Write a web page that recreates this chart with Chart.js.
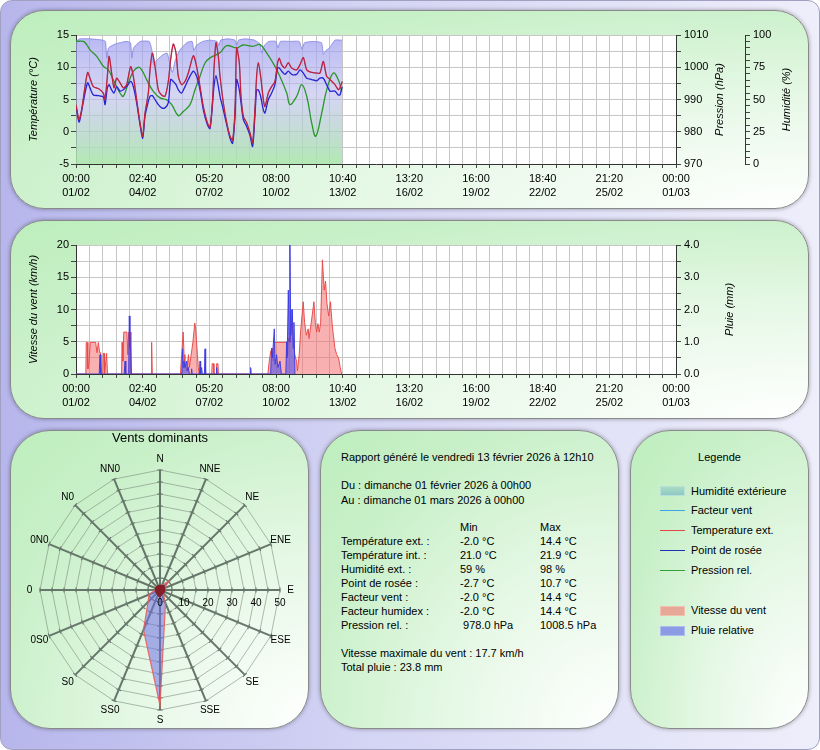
<!DOCTYPE html>
<html><head><meta charset="utf-8">
<script src="https://cdn.jsdelivr.net/npm/chart.js@4.4.1/dist/chart.umd.min.js"></script>
<style>
html,body{margin:0;padding:0;}
body{width:820px;height:750px;overflow:hidden;position:relative;font-family:"Liberation Sans",Arial,sans-serif;font-size:11px;color:#000;}
#page{position:absolute;left:0;top:0;width:820px;height:750px;box-sizing:border-box;border:1px solid #a0a0c0;border-radius:12px;background:linear-gradient(to right,#b6b6ec 0%,#d4d4f4 45%,#eeeefb 100%);}
.panel{position:absolute;box-sizing:border-box;border:1px solid #8a8a8a;box-shadow:0 0 4px rgba(0,0,0,0.35);background:radial-gradient(ellipse farthest-corner at 100% 100%,#ffffff 0%,#e6f8e6 40%,#c9f0c9 75%,#bdeebd 100%);}
canvas{position:absolute;}
.t{position:absolute;white-space:pre;line-height:14px;}
.sw{position:absolute;width:25px;height:10px;box-sizing:border-box;}
.ln{position:absolute;width:25px;height:1px;}
</style></head>
<body>
<div id="page"></div>
<div class="panel" style="left:10px;top:10px;width:799px;height:199px;border-radius:34px;"></div>
<div class="panel" style="left:10px;top:220px;width:799px;height:199px;border-radius:34px;"></div>
<div class="panel" style="left:10px;top:430px;width:299px;height:299px;border-radius:40px;"></div>
<div class="panel" style="left:320px;top:430px;width:299px;height:299px;border-radius:40px;"></div>
<div class="panel" style="left:630px;top:430px;width:179px;height:299px;border-radius:40px;"></div>

<canvas id="c1" width="798" height="198" style="left:10px;top:10px;"></canvas>
<canvas id="c2" width="798" height="198" style="left:10px;top:220px;"></canvas>
<canvas id="c3" width="298" height="298" style="left:10px;top:430px;"></canvas>

<!-- report panel -->
<div class="t" style="left:341px;top:450px;">Rapport généré le vendredi 13 février 2026 à 12h10</div>
<div class="t" style="left:341px;top:478px;">Du : dimanche 01 février 2026 à 00h00</div>
<div class="t" style="left:341px;top:493px;">Au : dimanche 01 mars 2026 à 00h00</div>
<div class="t" style="left:460px;top:520px;">Min</div>
<div class="t" style="left:540px;top:520px;">Max</div>
<div class="t" style="left:341px;top:534px;">Température ext. :</div><div class="t" style="left:460px;top:534px;">-2.0 °C</div><div class="t" style="left:540px;top:534px;">14.4 °C</div>
<div class="t" style="left:341px;top:548px;">Température int. :</div><div class="t" style="left:460px;top:548px;">21.0 °C</div><div class="t" style="left:540px;top:548px;">21.9 °C</div>
<div class="t" style="left:341px;top:562px;">Humidité ext. :</div><div class="t" style="left:460px;top:562px;">59 %</div><div class="t" style="left:540px;top:562px;">98 %</div>
<div class="t" style="left:341px;top:576px;">Point de rosée :</div><div class="t" style="left:460px;top:576px;">-2.7 °C</div><div class="t" style="left:540px;top:576px;">10.7 °C</div>
<div class="t" style="left:341px;top:590px;">Facteur vent :</div><div class="t" style="left:460px;top:590px;">-2.0 °C</div><div class="t" style="left:540px;top:590px;">14.4 °C</div>
<div class="t" style="left:341px;top:604px;">Facteur humidex :</div><div class="t" style="left:460px;top:604px;">-2.0 °C</div><div class="t" style="left:540px;top:604px;">14.4 °C</div>
<div class="t" style="left:341px;top:618px;">Pression rel. :</div><div class="t" style="left:460px;top:618px;"> 978.0 hPa</div><div class="t" style="left:540px;top:618px;">1008.5 hPa</div>
<div class="t" style="left:341px;top:646px;">Vitesse maximale du vent : 17.7 km/h</div>
<div class="t" style="left:341px;top:660px;">Total pluie : 23.8 mm</div>

<!-- legend panel -->
<div class="t" style="left:630px;width:179px;text-align:center;top:450px;">Legende</div>
<div class="sw" style="left:660px;top:486px;background:linear-gradient(#a8dcc4,#8ec8c4);border:1px solid #b8e0d8;"></div>
<div class="t" style="left:691px;top:484px;">Humidité extérieure</div>
<div class="ln" style="left:660px;top:510px;background:#3aa6e6;"></div>
<div class="t" style="left:691px;top:503px;">Facteur vent</div>
<div class="ln" style="left:660px;top:530px;background:#e04848;"></div>
<div class="t" style="left:691px;top:523px;">Temperature ext.</div>
<div class="ln" style="left:660px;top:550px;background:#2232b8;"></div>
<div class="t" style="left:691px;top:543px;">Point de rosée</div>
<div class="ln" style="left:660px;top:570px;background:#38a038;"></div>
<div class="t" style="left:691px;top:563px;">Pression rel.</div>
<div class="sw" style="left:660px;top:606px;background:#e8a898;border:1px solid #f0c0b0;"></div>
<div class="t" style="left:691px;top:603px;">Vitesse du vent</div>
<div class="sw" style="left:660px;top:626px;background:#8c9ce4;border:1px solid #b0bcf0;"></div>
<div class="t" style="left:691px;top:623px;">Pluie relative</div>

<script>
// ---------- data ----------
const xTickTimes = ['00:00','02:40','05:20','08:00','10:40','13:20','16:00','18:40','21:20','00:00'];
const xTickDates = ['01/02','04/02','07/02','10/02','13/02','16/02','19/02','22/02','25/02','01/03'];

// hours since 01/02 00:00
const tempHours = [0,3.4,6.3,10.1,13.1,15.7,19.4,25.0,30.6,32.5,35.1,37.0,39.9,42.6,45.5,49.3,53.0,56.7,61.2,64.2,67.9,71.7,74.7,77.3,81.0,82.9,85.5,88.5,92.2,95.9,99.7,103.4,106.0,109.0,112.0,114.6,118.3,122.1,125.8,131.4,135.1,138.9,142.6,147.1,150.1,153.0,154.5,156.8,159.4,161.3,165.0,168.8,172.5,175.4,178.1,179.9,182.9,184.8,187.4,191.1,194.9,197.8,200.4,202.3,204.2,206.8,209.8,211.6,215.4,219.1,222.8,225.8,227.7,230.3,234.0,237.8,241.5,247.1,250.9,254.6,258.4,264.0,269.5,273.2,277.0,280.7,284.4,290.0,293.8,295.6,298.2];
const tempValues = [4.2,1.9,3.4,7.0,9.2,8.3,7.0,6.7,6.0,5.0,8.6,11.7,9.1,6.8,8.3,7.6,6.8,7.3,10.1,8.6,5.0,1.4,-0.7,2.9,6.0,9.6,12.2,10.1,6.5,5.7,5.5,7.8,11.2,13.6,12.2,8.6,7.3,7.8,9.1,11.8,10.1,7.0,3.9,1.4,0.7,5.0,9.6,13.8,11.7,8.6,4.5,1.4,-0.7,-1.3,3.4,13.0,10.7,5.5,2.4,1.4,-0.2,-1.7,3.4,8.6,10.7,8.6,5.0,3.9,6.0,7.0,7.8,10.7,11.4,10.4,9.9,10.7,9.9,9.6,10.4,11.5,9.6,9.2,9.1,9.1,10.9,8.6,8.1,7.3,6.5,6.8,7.8];
const dewValues = [3.9,1.5,3.2,6.0,7.6,6.8,5.7,5.6,5.4,4.2,6.8,7.3,6.5,6.0,7.0,6.3,6.5,7.0,7.8,7.0,4.5,1.1,-1.0,2.4,4.7,5.5,5.6,5.0,4.2,3.7,3.7,4.5,8.1,7.8,7.3,6.5,6.0,7.0,8.1,9.4,8.6,6.5,3.4,1.1,0.5,4.5,7.0,8.7,7.0,5.5,3.4,1.1,-1.0,-1.8,2.4,8.1,6.5,4.5,1.9,0.8,-0.6,-2.3,2.4,6.5,6.5,5.5,3.4,2.9,5.0,6.0,7.3,9.9,9.9,9.4,8.9,9.4,8.9,8.9,9.6,9.1,8.3,8.1,7.9,8.3,8.3,7.3,6.3,6.3,5.7,5.7,7.0];

const pressHours = [0,8.2,12,15.7,23.2,30.6,36.2,41.8,49.3,53,58.6,64.2,69.8,73.6,79.2,86.6,94.1,101.6,107.2,114.6,120.2,127.7,133.3,138.9,144.5,150.1,161.3,168.8,180,187,198.2,206.1,213.6,224.8,236,239.7,247.2,252.8,258.4,264,268.5,275.2,280.8,288.2,293.8,297.6];
const pressValues = [1008.0,1008.0,1007.0,1005.4,1003.4,1000.3,999.2,996.1,992.0,991.0,995.1,998.7,1000.0,999.2,996.1,992.5,990.5,989.9,988.4,985.0,986.3,988.4,993.0,997.2,1001.3,1002.9,1004.5,1006.7,1006.0,1006.9,1006.5,1007.0,1004.4,999.2,992.0,988.4,991.0,994.6,991.0,982.7,978.6,985.8,993.0,998.2,996.1,992.5];

const humHours = [0,4,16,30,33,34.5,36.5,44,56,61,62.5,64.5,72,82,85,87,90,96,102,105,108,111,116,124,130,132,135,142,150,158,160,162,170,178,180,182,190,200,206,208,211,216,224,226,229,240,250,253,256,266,275,277,280,284,290,298];
const humValues = [95,97,97,96,95,82,90,93,95,94,82,90,95,95,88,77,80,84,86,78,71,80,88,94,95,88,92,95,96,95,92,96,97,96,92,96,97,96,93,86,92,95,95,90,95,95,95,89,94,95,94,85,88,90,96,96];

const windHours = [0,11,11.5,12.5,13.3,14.5,16,20,22,23.5,25,26.5,27.5,28.5,30,30.6,31.5,32,34.3,35.3,51,51.6,52.5,53.5,57,58,59,60.5,61.5,84,84.7,85.4,117,118.3,120,121,122,124,126,127,131,133,134,136,137,138,152,152.5,154,154.5,157,157.5,159,159.5,215,216,218,220,221,222,236,237,238,240,241.5,243,245,247,248,250,251.5,254.5,256,258,260,261,263.5,266.5,268,269.5,271,272.5,274,276,278,279.5,281,283,285,287,290,292,294,296,297.5];
const windSpeed = [0,0,4.9,4.9,0.8,1.6,4.9,4.9,4.9,3.3,4.9,3.3,3.3,0,0,3.2,3.2,0,3.2,0,0,4.9,2,6.5,6.5,3,6.5,6.5,0,0,4.9,0,0,3,6.5,3,1.5,0.5,3,1,5,7.9,7,3,1,0,0,1.6,1.6,0,0,1.6,1.6,0,0,1.5,3.5,4,2,4.9,4.9,3,5.5,4.9,10,6,3,2,0.5,3,6.5,11.2,8,6,7,5.5,8,11.2,8,6.5,7.8,6.5,8,17.7,13,14.4,11,9,11.2,7.5,4,3,2.5,1,0];

const rainHours = [0,26,26.9,27.8,54,54.9,55.8,59,59.7,60.4,61.2,62,118.5,119.4,120.2,120.9,122,123.9,125,125.8,127,129,129.5,130,138.3,138.9,139.6,140.7,141.5,143.8,144.5,145.2,157,157.5,158,195,195.6,196.2,218,219.1,220,222.1,223,224.7,226,228.5,230,235,235.9,236.5,237.8,238.8,239.6,240.5,241.5,242.3,243.2,244.1,245.2];
const rainValues = [0,0,0.6,0,0,0.4,0,0,1.8,0.8,0.8,0,0,0.78,0.2,0.4,0.2,0.4,0.1,0.2,0,0,0.16,0,0,0.4,0,0.2,0,0,0.78,0,0,0.2,0,0,0.2,0,0,0.8,0.5,1.4,0.3,0.6,0.2,0.4,0,0,1,0.5,2.6,1,4.0,1.2,1.6,2.0,0.8,1.6,0];

const roseDirections = ['N','NNE','NE','ENE','E','ESE','SE','SSE','S','SS0','S0','0S0','0','0N0','N0','NN0'];
const roseOuter = [1,2,5,2,1,1,2,6,48,18,7,5,2,1,1,1];
const roseInner = [2,2,2.5,2,2,2,2,2,3,2.5,2,2,2,2,2,2];
const roseTicks = [0,10,20,30,40,50];

// ---------- helpers ----------
const FONT = '"Liberation Sans", Arial, sans-serif';
Chart.defaults.font.family = FONT;
Chart.defaults.font.size = 11;
Chart.defaults.color = '#000';
const pts = (xs, ys) => xs.map((x, i) => ({x: x, y: ys[i]}));
const MONTH_H = 672;

const plotBg = {
  id: 'plotBg',
  beforeDraw(chart) {
    const a = chart.chartArea, c = chart.ctx;
    c.save(); c.fillStyle = '#ffffff';
    c.fillRect(a.left, a.top, a.right - a.left, a.bottom - a.top);
    c.restore();
  }
};
const axisTitles = {
  id: 'axisTitles',
  afterDraw(chart, args, opts) {
    const c = chart.ctx, a = chart.chartArea, cy = (a.top + a.bottom) / 2;
    c.save();
    c.font = 'italic 11px ' + FONT; c.fillStyle = '#000';
    c.textAlign = 'center'; c.textBaseline = 'middle';
    (opts.items || []).forEach(it => {
      const s = chart.scales[it.scale];
      c.save(); c.translate(s.left + it.offset, cy); c.rotate(-Math.PI / 2);
      c.fillText(it.text, 0, 0); c.restore();
    });
    c.restore();
  }
};

function xScale() {
  return {
    type: 'linear', min: 0, max: MONTH_H, position: 'bottom',
    afterBuildTicks: ax => { ax.ticks = Array.from({length: 46}, (_, i) => ({value: i * MONTH_H / 45})); },
    afterFit: ax => { ax.height = 44; },
    grid: {color: '#c6c6c6', lineWidth: 1, tickColor: '#444', tickLength: 4},
    border: {color: '#333', width: 1},
    ticks: {autoSkip: false, maxRotation: 0, minRotation: 0, padding: 4, color: '#000',
      font: {size: 11, lineHeight: 1.27},
      callback: (v, i) => (i % 5 === 0 ? [xTickTimes[i / 5], xTickDates[i / 5]] : '')}
  };
}
function leftScale(min, max, step, major) {
  return {
    type: 'linear', position: 'left', min: min, max: max,
    afterFit: ax => { ax.width = 66; },
    grid: {color: '#c6c6c6', tickColor: '#444', tickLength: 5},
    border: {color: '#333'},
    ticks: {autoSkip: false, stepSize: step, padding: 2, color: '#000', font: {size: 11},
      callback: v => (Math.abs(v % major) < 1e-9 ? String(v) : '')}
  };
}
function rightScale(min, max, step, major, width, fmt) {
  return {
    type: 'linear', position: 'right', min: min, max: max,
    afterFit: ax => { ax.width = width; },
    grid: {drawOnChartArea: false, tickColor: '#444', tickLength: 5},
    border: {color: '#333'},
    ticks: {autoSkip: false, stepSize: step, padding: 3, color: '#000', font: {size: 11},
      callback: v => (Math.abs(v % major) < 1e-9 ? fmt(v) : '')}
  };
}

// ---------- chart 1 : temperatures / pressure / humidity ----------
new Chart(document.getElementById('c1'), {
  type: 'line',
  data: {datasets: [
    {label: 'Temperature ext.', data: pts(tempHours, tempValues), yAxisID: 'y', borderColor: '#c8203c', borderWidth: 1.3, pointRadius: 0, tension: 0.25, fill: false},
    {label: 'Point de rosée', data: pts(tempHours, dewValues), yAxisID: 'y', borderColor: '#2424d6', borderWidth: 1.3, pointRadius: 0, tension: 0.25, fill: false},
    {label: 'Pression rel.', data: pts(pressHours, pressValues), yAxisID: 'yP', borderColor: '#2a962a', borderWidth: 1.3, pointRadius: 0, tension: 0.4, fill: false},
    {label: 'Facteur vent', data: pts(tempHours, tempValues), yAxisID: 'y', borderColor: '#3aa6e6', borderWidth: 1, pointRadius: 0, tension: 0.25, fill: false},
    {label: 'Humidité extérieure', data: pts(humHours, humValues), yAxisID: 'yH', fill: 'start', pointRadius: 0, tension: 0.15,
      borderColor: 'rgba(135,135,230,0.9)', borderWidth: 1,
      backgroundColor: ctx => {
        const a = ctx.chart.chartArea;
        if (!a) return 'rgba(160,160,235,0.6)';
        const g = ctx.chart.ctx.createLinearGradient(0, a.top, 0, a.bottom);
        g.addColorStop(0, 'rgba(156,156,240,0.72)');
        g.addColorStop(0.45, 'rgba(186,186,236,0.6)');
        g.addColorStop(1, 'rgba(170,230,170,0.9)');
        return g;
      }}
  ]},
  options: {
    responsive: false, animation: false, devicePixelRatio: 1,
    layout: {padding: {top: 25, left: 0, right: 0, bottom: 0}},
    plugins: {legend: {display: false}, tooltip: {enabled: false},
      axisTitles: {items: [
        {scale: 'y', offset: 24, text: 'Température (°C)'},
        {scale: 'yP', offset: 44, text: 'Pression (hPa)'},
        {scale: 'yH', offset: 42, text: 'Humidité (%)'}]}},
    scales: {
      x: xScale(),
      y: leftScale(-5, 15, 2.5, 5),
      yP: rightScale(970, 1010, 5, 10, 69, v => String(v)),
      yH: rightScale(0, 100, 5, 25, 63, v => String(v))
    }
  },
  plugins: [plotBg, axisTitles]
});

// ---------- chart 2 : wind / rain ----------
new Chart(document.getElementById('c2'), {
  type: 'line',
  data: {datasets: [
    {label: 'Pluie relative', data: pts(rainHours, rainValues), yAxisID: 'yR', fill: 'start', pointRadius: 0, tension: 0,
      backgroundColor: 'rgba(84,84,236,0.62)', borderColor: 'rgba(60,60,226,0.95)', borderWidth: 1},
    {label: 'Vitesse du vent', data: pts(windHours, windSpeed), yAxisID: 'y', fill: 'start', pointRadius: 0, tension: 0,
      backgroundColor: 'rgba(244,112,112,0.55)', borderColor: 'rgba(232,72,72,0.95)', borderWidth: 1}
  ]},
  options: {
    responsive: false, animation: false, devicePixelRatio: 1,
    layout: {padding: {top: 25, left: 0, right: 0, bottom: 0}},
    plugins: {legend: {display: false}, tooltip: {enabled: false},
      axisTitles: {items: [
        {scale: 'y', offset: 24, text: 'Vitesse du vent (km/h)'},
        {scale: 'yR', offset: 54, text: 'Pluie (mm)'}]}},
    scales: {
      x: xScale(),
      y: leftScale(0, 20, 2.5, 5),
      yR: rightScale(0, 4, 0.5, 1, 132, v => v.toFixed(1))
    }
  },
  plugins: [plotBg, axisTitles]
});

// ---------- chart 3 : wind rose ----------
const roseDecor = {
  id: 'roseDecor',
  beforeDatasetsDraw(chart) {
    const s = chart.scales.r, c = chart.ctx;
    const cx = s.xCenter, cy = s.yCenter;
    c.save();
    c.strokeStyle = '#66766a'; c.lineWidth = 1.1;
    for (let i = 0; i < roseDirections.length; i++) {
      for (let v = 5; v <= 50; v += 5) {
        const d = s.getDistanceFromCenterForValue(v);
        const p = s.getPointPosition(i, d);
        const ux = (p.x - cx) / d, uy = (p.y - cy) / d;
        c.beginPath();
        c.moveTo(p.x - uy * 2.6, p.y + ux * 2.6);
        c.lineTo(p.x + uy * 2.6, p.y - ux * 2.6);
        c.stroke();
      }
    }
    c.restore();
  },
  afterDraw(chart) {
    const s = chart.scales.r, c = chart.ctx;
    c.save();
    c.fillStyle = '#000';
    c.textAlign = 'center'; c.textBaseline = 'middle';
    c.font = '13px ' + FONT;
    c.fillText('Vents dominants', s.xCenter, 8.5);
    c.font = '10px ' + FONT;
    roseDirections.forEach((lab, i) => {
      const p = s.getPointPosition(i, s.drawingArea + 10.5);
      c.fillText(lab, p.x, p.y);
    });
    roseTicks.forEach(v => {
      const p = s.getPointPosition(4, s.getDistanceFromCenterForValue(v));
      c.fillText(String(v), p.x, p.y + 13);
    });
    c.restore();
  }
};
new Chart(document.getElementById('c3'), {
  type: 'radar',
  data: {labels: roseDirections, datasets: [
    {label: 'Calme', data: roseInner, fill: 'origin', backgroundColor: 'rgba(135,22,30,0.92)', borderColor: 'rgba(135,22,30,1)', borderWidth: 1, pointRadius: 0},
    {label: 'Direction', data: roseOuter, fill: 'origin', backgroundColor: 'rgba(112,112,228,0.55)', borderColor: 'rgba(236,92,92,0.9)', borderWidth: 1.2, pointRadius: 0}
  ]},
  options: {
    responsive: false, animation: false, devicePixelRatio: 1,
    layout: {padding: {left: 30, right: 28, top: 40, bottom: 18}},
    plugins: {legend: {display: false}, tooltip: {enabled: false}},
    scales: {r: {min: 0, max: 50,
      ticks: {display: false, stepSize: 5},
      pointLabels: {display: false},
      grid: {color: 'rgba(118,132,118,0.55)', lineWidth: 1},
      angleLines: {color: '#66766a', lineWidth: 2}}}
  },
  plugins: [roseDecor]
});
</script>
</body></html>
